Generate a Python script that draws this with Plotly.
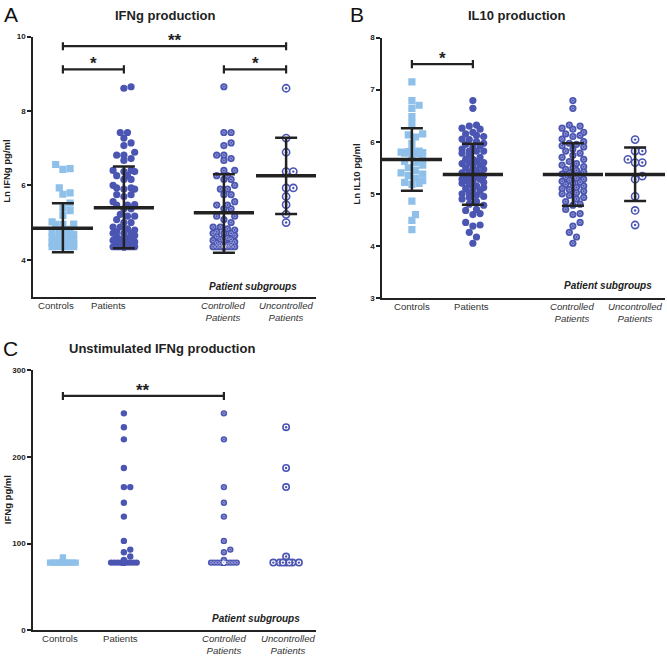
import numpy as np
import plotly.graph_objects as go

W, H = 667, 659
FONT = "Liberation Sans, Arial, sans-serif"
DARK = "#4b55b2"
LIGHT = "#8fc0ea"
INK = "#222222"

group_pos = [1.0, 2.0, 3.64, 4.66]
x_range = [0.51, 5.15]

# ---------- Panel A: Ln IFNg pg/ml ----------
a_controls = [6.56, 6.45, 6.43, 5.93, 5.80, 5.76, 5.52, 5.39, 5.32, 5.19, 5.02, 4.96, 4.95, 4.95,
              4.82, 4.78, 4.75, 4.70, 4.68, 4.65, 4.62, 4.60, 4.57, 4.55, 4.52, 4.50, 4.48, 4.46,
              4.44, 4.42, 4.40, 4.38, 4.37, 4.36, 4.35, 4.35, 4.35, 4.35, 4.35, 4.35]
a_controlled = [8.65, 7.42, 7.42, 7.14, 7.07, 6.81, 6.81, 6.72, 6.67, 6.40, 6.40, 6.26, 6.26, 6.16,
                6.16, 6.00, 5.90, 5.90, 5.75, 5.75, 5.56, 5.47, 5.47, 5.37, 5.37, 5.17, 5.17, 5.08,
                5.00, 4.88, 4.88, 4.83, 4.80, 4.75, 4.71, 4.71, 4.71, 4.65, 4.62, 4.58, 4.55, 4.55,
                4.52, 4.50, 4.48, 4.45, 4.44, 4.42, 4.40, 4.38, 4.35, 4.35, 4.35, 4.35, 4.35, 4.35,
                4.35, 4.35, 4.35, 4.35, 4.35, 4.35, 4.35]
a_uncontrolled = [8.61, 7.27, 6.89, 6.37, 6.37, 5.93, 5.93, 5.70, 5.48, 5.22, 5.00]
a_patients = a_controlled + a_uncontrolled
a_mean = [4.85, 5.40, 5.26, 6.26]
a_sd_low = [4.20, 4.31, 4.19, 5.23]
a_sd_high = [5.52, 6.51, 6.30, 7.28]

# ---------- Panel B: Ln IL10 pg/ml ----------
b_controls = [7.15, 6.79, 6.70, 6.64, 6.48, 6.35, 6.15, 6.13, 6.09, 5.97, 5.84, 5.82, 5.81, 5.80,
              5.80, 5.79, 5.78, 5.78, 5.77, 5.70, 5.65, 5.62, 5.60, 5.55, 5.50, 5.45, 5.40, 5.38,
              5.35, 5.30, 5.25, 5.22, 5.20, 5.18, 4.86, 4.60, 4.49, 4.31]
b_controlled = [6.79, 6.64, 6.32, 6.30, 6.26, 6.24, 6.18, 6.15, 6.12, 6.10, 6.05, 6.00, 5.97, 5.95,
                5.92, 5.90, 5.86, 5.82, 5.78, 5.74, 5.70, 5.66, 5.62, 5.58, 5.55, 5.52, 5.50, 5.47,
                5.45, 5.42, 5.40, 5.38, 5.36, 5.34, 5.32, 5.30, 5.28, 5.26, 5.24, 5.22, 5.20, 5.18,
                5.15, 5.12, 5.10, 5.08, 5.05, 5.02, 5.00, 4.97, 4.93, 4.90, 4.85, 4.80, 4.78, 4.70,
                4.62, 4.60, 4.45, 4.38, 4.26, 4.17, 4.05]
b_uncontrolled = [6.04, 5.82, 5.82, 5.66, 5.60, 5.60, 5.34, 5.28, 4.95, 4.68, 4.40]
b_patients = b_controlled + b_uncontrolled
b_mean = [5.66, 5.37, 5.37, 5.37]
b_sd_low = [5.06, 4.79, 4.77, 4.86]
b_sd_high = [6.26, 5.96, 5.97, 5.89]

# ---------- Panel C: IFNg pg/ml (unstimulated) ----------
c_controls = [78] * 38 + [84]
c_controlled = [250, 220, 165, 147, 131, 103, 93, 90, 81] + [78] * 41
c_uncontrolled = [234, 187, 165, 85] + [78] * 7
c_patients = c_controlled + c_uncontrolled

# category tick labels
tick_text = ["Controls", "Patients", "<i>Controlled</i><br><i>Patients</i>",
             "<i>Uncontrolled</i><br><i>Patients</i>"]
a_tickvals = [0.885, 1.74, 3.62, 4.67]
b_tickvals = [1.0, 1.98, 3.62, 4.66]
c_tickvals = [0.95, 1.95, 3.64, 4.70]

# layout geometry (paper domains)
xdomA = [33 / W, 316 / W]
xdomB = [382 / W, 665 / W]
ydomA = [1 - 297 / H, 1 - 33 / H]
ydomB = [1 - 298 / H, 1 - 34 / H]
ydomC = [1 - 635 / H, 1 - 371 / H]
yrA, yrB, yrC = [3, 10], [3, 8], [0, 300]


def ppu(dom, rng, size):
    return (dom[1] - dom[0]) * size / (rng[1] - rng[0])


def swarm(vals, ppu_y, d, maxw, step):
    vals = np.asarray(vals, float)
    order = np.argsort(vals, kind="stable")
    cands = [0.0]
    k = 1
    while k * step <= maxw + 1e-9:
        cands += [k * step, -k * step]
        k += 1
    placed = []
    offs = np.zeros(len(vals))
    for i in order:
        y = vals[i] * ppu_y
        best, bestscore = 0.0, -1
        for c in cands:
            md = min([np.hypot(c - px, y - py) for px, py in placed], default=1e9)
            if md >= d * 0.92:
                best = c
                break
            if md > bestscore:
                bestscore, best = md, c
        offs[i] = best
        placed.append((best, y))
    return offs


fig = go.Figure()


def add_group(vals, pos, xa, ya, ydom, yr, xdom, kind, d):
    py = ppu(ydom, yr, H)
    px = ppu(xdom, x_range, W)
    offs = swarm(vals, py, d, 14, d / 2)
    xs = pos + offs / px
    common = dict(x=xs, y=vals, mode="markers", xaxis=xa, yaxis=ya, showlegend=False)
    if kind == "square":
        fig.add_trace(go.Scatter(**common, hoverinfo="y",
                                 marker=dict(symbol="square", size=d, color=LIGHT, line=dict(width=0))))
    elif kind == "filled":
        fig.add_trace(go.Scatter(**common, hoverinfo="y",
                                 marker=dict(symbol="circle", size=d, color=DARK, line=dict(width=0))))
    elif kind == "controlled":
        fig.add_trace(go.Scatter(**common, hoverinfo="y",
                                 marker=dict(symbol="circle", size=d, color=DARK, line=dict(width=0))))
        fig.add_trace(go.Scatter(**common, hoverinfo="skip",
                                 marker=dict(symbol="circle-open", size=d * 0.4,
                                             color="rgba(235,237,250,0.6)",
                                             line=dict(width=0.7, color="rgba(235,237,250,0.6)"))))
    else:  # uncontrolled
        fig.add_trace(go.Scatter(**common, hoverinfo="y",
                                 marker=dict(symbol="circle", size=d, color="white",
                                             line=dict(width=1.6, color=DARK))))
        fig.add_trace(go.Scatter(**common, hoverinfo="skip",
                                 marker=dict(symbol="circle", size=2.4, color=DARK, line=dict(width=0))))


def add_err(mean, lo, hi, xa, ya):
    fig.add_trace(go.Scatter(
        x=group_pos, y=mean, mode="markers", xaxis=xa, yaxis=ya,
        marker=dict(symbol="line-ew-open", size=43, color=INK, line=dict(width=3.5, color=INK)),
        error_y=dict(type="data", symmetric=False,
                     array=[h - m for h, m in zip(hi, mean)],
                     arrayminus=[m - l for m, l in zip(mean, lo)],
                     width=11, thickness=2.5, color=INK),
        showlegend=False, hoverinfo="skip"))


kinds = ["square", "filled", "controlled", "uncontrolled"]
for vals, pos, kind in zip([a_controls, a_patients, a_controlled, a_uncontrolled], group_pos, kinds):
    add_group(vals, pos, "x", "y", ydomA, yrA, xdomA, kind, 7.2)
add_err(a_mean, a_sd_low, a_sd_high, "x", "y")
for vals, pos, kind in zip([b_controls, b_patients, b_controlled, b_uncontrolled], group_pos, kinds):
    add_group(vals, pos, "x2", "y2", ydomB, yrB, xdomB, kind, 7.2)
add_err(b_mean, b_sd_low, b_sd_high, "x2", "y2")
for vals, pos, kind in zip([c_controls, c_patients, c_controlled, c_uncontrolled], group_pos, kinds):
    add_group(vals, pos, "x3", "y3", ydomC, yrC, xdomA, kind, 6.4)

# significance brackets
brackets = [  # (xref, yref, x0, x1, y, tick half height (data), label)
    ("x", "y", group_pos[0], group_pos[3], 9.74, 0.11, "**"),
    ("x", "y", group_pos[0], group_pos[1], 9.12, 0.11, "*"),
    ("x", "y", group_pos[2], group_pos[3], 9.12, 0.11, "*"),
    ("x2", "y2", group_pos[0], group_pos[1], 7.49, 0.08, "*"),
    ("x3", "y3", group_pos[0], group_pos[2], 270, 4.5, "**"),
]
shapes = []
annotations = []
for xr, yr_, x0, x1, yv, th, lab in brackets:
    line = dict(color=INK, width=2.2)
    shapes.append(dict(type="line", xref=xr, yref=yr_, x0=x0, x1=x1, y0=yv, y1=yv, line=line))
    shapes.append(dict(type="line", xref=xr, yref=yr_, x0=x0, x1=x0, y0=yv - th, y1=yv + th, line=line))
    shapes.append(dict(type="line", xref=xr, yref=yr_, x0=x1, x1=x1, y0=yv - th, y1=yv + th, line=line))
    annotations.append(dict(xref=xr, yref=yr_, x=(x0 + x1) / 2, y=yv, text=f"<b>{lab}</b>",
                            showarrow=False, yanchor="bottom", yshift=-6,
                            font=dict(size=17, color=INK, family=FONT)))


def pa(text, x, y, size, bold=False, italic=False, angle=0, color=INK):
    t = text
    if italic:
        t = f"<i>{t}</i>"
    if bold:
        t = f"<b>{t}</b>"
    annotations.append(dict(xref="paper", yref="paper", x=x / W, y=1 - y / H, text=t,
                            showarrow=False, xanchor="center", yanchor="middle",
                            textangle=angle, font=dict(size=size, color=color, family=FONT)))


pa("A", 11, 11, 21, color="#111")
pa("B", 357, 11, 21, color="#111")
pa("C", 10, 349, 21, color="#111")
pa("IFNg production", 165, 12, 13, bold=True)
pa("IL10 production", 517, 12, 13, bold=True)
pa("Unstimulated IFNg production", 162, 349, 13, bold=True)
pa("Ln IFNg pg/ml", 7, 170, 9.5, bold=True, angle=-90)
pa("Ln IL10 pg/ml", 357, 172, 9.5, bold=True, angle=-90)
pa("IFNg pg/ml", 7, 503, 9.5, bold=True, angle=-90)
pa("Patient subgroups", 253, 286, 10, bold=True, italic=True)
pa("Patient subgroups", 608, 285, 10, bold=True, italic=True)
pa("Patient subgroups", 256, 623, 10, bold=True, italic=True)

# category labels under each x axis
for xr, tv, ybot in [("x", a_tickvals, 297), ("x2", b_tickvals, 298), ("x3", c_tickvals, 635)]:
    for v, t in zip(tv, tick_text):
        annotations.append(dict(xref=xr, yref="paper", x=v, y=1 - ybot / H, text=t,
                                showarrow=False, xanchor="center", yanchor="top", yshift=-1,
                                font=dict(size=9.6, color="#333", family=FONT)))

yax_common = dict(showline=True, linecolor=INK, linewidth=1.5, ticks="outside", ticklen=4,
                  tickwidth=1.5, tickcolor=INK, showgrid=False, zeroline=False,
                  tickfont=dict(size=8, color=INK, family=FONT, weight="bold"))
xax_common = dict(showline=True, linecolor=INK, linewidth=1.5, ticks="", showgrid=False,
                  zeroline=False, range=x_range, showticklabels=False)

fig.update_layout(
    width=W, height=H, margin=dict(l=0, r=0, t=0, b=0),
    paper_bgcolor="white", plot_bgcolor="white", showlegend=False,
    xaxis=dict(domain=xdomA, anchor="y", **xax_common),
    yaxis=dict(domain=ydomA, anchor="x", range=yrA, tickvals=[4, 6, 8, 10], **yax_common),
    xaxis2=dict(domain=xdomB, anchor="y2", **xax_common),
    yaxis2=dict(domain=ydomB, anchor="x2", range=yrB, tickvals=[3, 4, 5, 6, 7, 8], **yax_common),
    xaxis3=dict(domain=xdomA, anchor="y3", **xax_common),
    yaxis3=dict(domain=ydomC, anchor="x3", range=yrC, tickvals=[0, 100, 200, 300], **yax_common),
    shapes=shapes, annotations=annotations,
)

fig.write_html("out.html", config={"displayModeBar": False},
               post_script="document.body.style.margin='0';document.body.style.overflow='hidden';")
